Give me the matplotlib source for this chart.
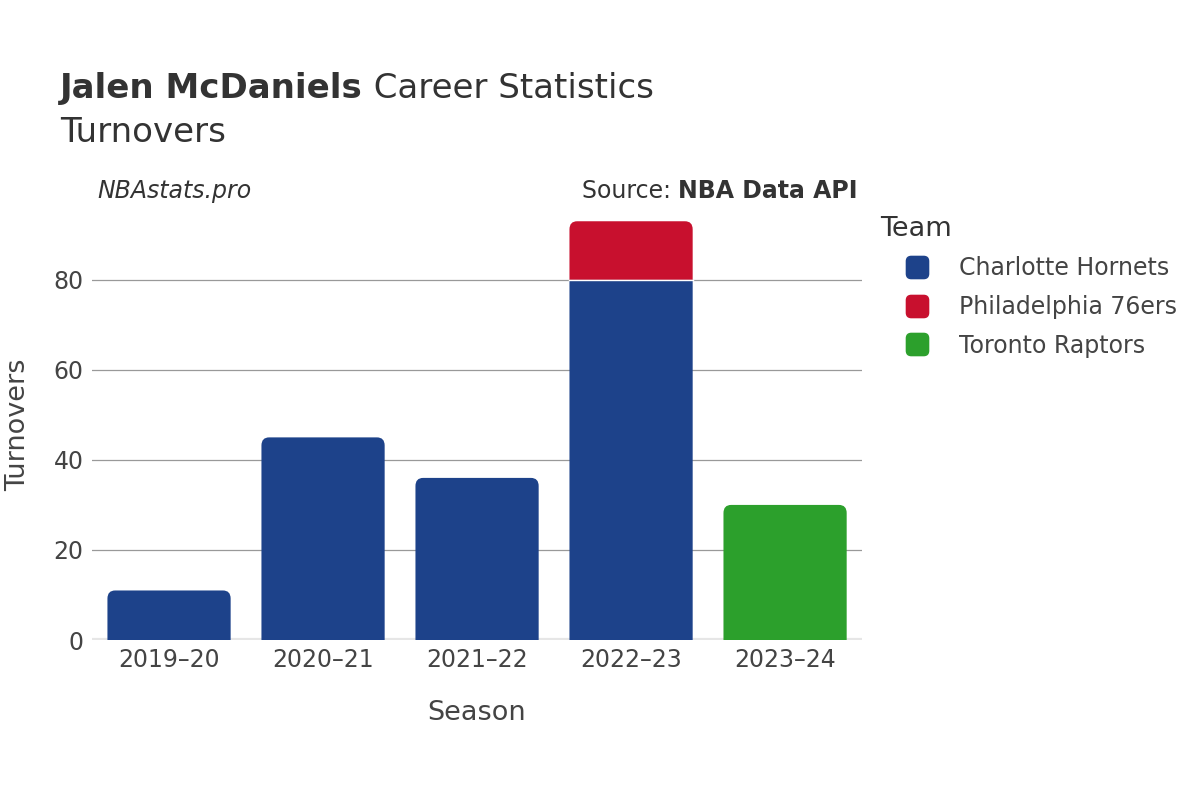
import matplotlib
matplotlib.use("Agg")
from matplotlib import pyplot as plt
from matplotlib.patches import PathPatch, Rectangle, BoxStyle
from matplotlib.path import Path
from matplotlib.lines import Line2D

seasons = ['2019–20', '2020–21', '2021–22', '2022–23', '2023–24']
teams = ['Charlotte Hornets', 'Philadelphia 76ers', 'Toronto Raptors']
colors = ['#1d428a', '#c8102e', '#2ca02c']
# turnovers per team per season (stacked in this order)
hornets = [11, 45, 36, 80, 0]
sixers = [0, 0, 0, 13, 0]
raptors = [0, 0, 0, 0, 30]
yticks = [0, 20, 40, 60, 80]


def rounded_top(x0, b, w, h, rx, ry):
    ry = min(ry, h)
    verts = [(x0, b), (x0, b + h - ry), (x0, b + h), (x0 + rx, b + h),
             (x0 + w - rx, b + h), (x0 + w, b + h), (x0 + w, b + h - ry),
             (x0 + w, b), (x0, b)]
    codes = [Path.MOVETO, Path.LINETO, Path.CURVE3, Path.CURVE3,
             Path.LINETO, Path.CURVE3, Path.CURVE3, Path.LINETO, Path.CLOSEPOLY]
    return Path(verts, codes)


plt.rcParams['font.family'] = ['DejaVu Sans']
fig = plt.figure(figsize=(12, 8), dpi=100)
ax = fig.add_axes([0.0767, 0.2, 0.6417, 0.5375])

width = 0.8
series = [hornets, sixers, raptors]
bottoms = [0] * len(seasons)
tops = [sum(v) for v in zip(*series)]
for vals, col in zip(series, colors):
    for i, v in enumerate(vals):
        if v <= 0:
            continue
        b = bottoms[i]
        x0 = i - width / 2
        if abs(b + v - tops[i]) < 1e-9:
            ax.add_patch(PathPatch(rounded_top(x0, b, width, v, 0.05, 1.8),
                                   facecolor=col, edgecolor='none', lw=0, zorder=3))
        else:
            ax.add_patch(Rectangle((x0, b), width, v, facecolor=col,
                                   edgecolor='none', lw=0, zorder=3, snap=False))
        if b > 0:
            ax.plot([x0, x0 + width], [b, b], color='white', lw=1, zorder=4)
        bottoms[i] += v

ax.set_xlim(-0.5, len(seasons) - 0.5)
ax.set_ylim(0, 95.5)
ax.set_xticks(range(len(seasons)))
ax.set_xticklabels(seasons)
ax.set_yticks(yticks)
ax.tick_params(axis='both', length=0, labelsize=17, labelcolor='#444444', pad=6)
ax.grid(axis='y', color='#999999', lw=0.9, zorder=0)
ax.axhline(0, color='#e6e6e6', lw=3, zorder=2)
for s in ax.spines.values():
    s.set_visible(False)
ax.set_xlabel('Season', fontsize=19.5, color='#444444', labelpad=20)
ax.set_ylabel('Turnovers', fontsize=19.5, color='#444444', labelpad=16)

t1 = fig.text(0.05, 0.878, 'Jalen McDaniels', fontsize=24.5, fontweight='bold', color='#333333', va='baseline')
fig.text(0.05, 0.823, 'Turnovers', fontsize=24.5, color='#333333', va='baseline')
fig.text(0.081, 0.752, 'NBAstats.pro', fontsize=17, style='italic', color='#333333', va='baseline')
s2 = fig.text(0.715, 0.752, 'NBA Data API', fontsize=17, fontweight='bold', color='#333333',
              va='baseline', ha='right')

fig.canvas.draw()
r = fig.canvas.get_renderer()
inv = fig.transFigure.inverted()
e1 = t1.get_window_extent(r)
fig.text(inv.transform((e1.x1, 0))[0], 0.878, ' Career Statistics', fontsize=24.5,
         color='#333333', va='baseline')
e2 = s2.get_window_extent(r)
fig.text(inv.transform((e2.x0, 0))[0], 0.752, 'Source: ', fontsize=17, color='#333333',
         va='baseline', ha='right')

# rounded square legend marker
rsq = BoxStyle("round", pad=0, rounding_size=0.22)(-0.5, -0.5, 1, 1, 1)
handles = [Line2D([], [], marker=rsq, linestyle='none', markersize=16,
                  markerfacecolor=c, markeredgecolor=c) for c in colors]
leg = fig.legend(handles, teams, loc='upper left', bbox_to_anchor=(0.7255, 0.742),
                 frameon=False, fontsize=17, title='Team', title_fontsize=19.5,
                 labelspacing=0.62, handlelength=3.1, handletextpad=0.25, borderaxespad=0)
leg._legend_box.align = 'left'
for t in leg.get_texts():
    t.set_color('#444444')
leg.get_title().set_color('#333333')

fig.savefig('out.png', dpi=100, facecolor='white')
